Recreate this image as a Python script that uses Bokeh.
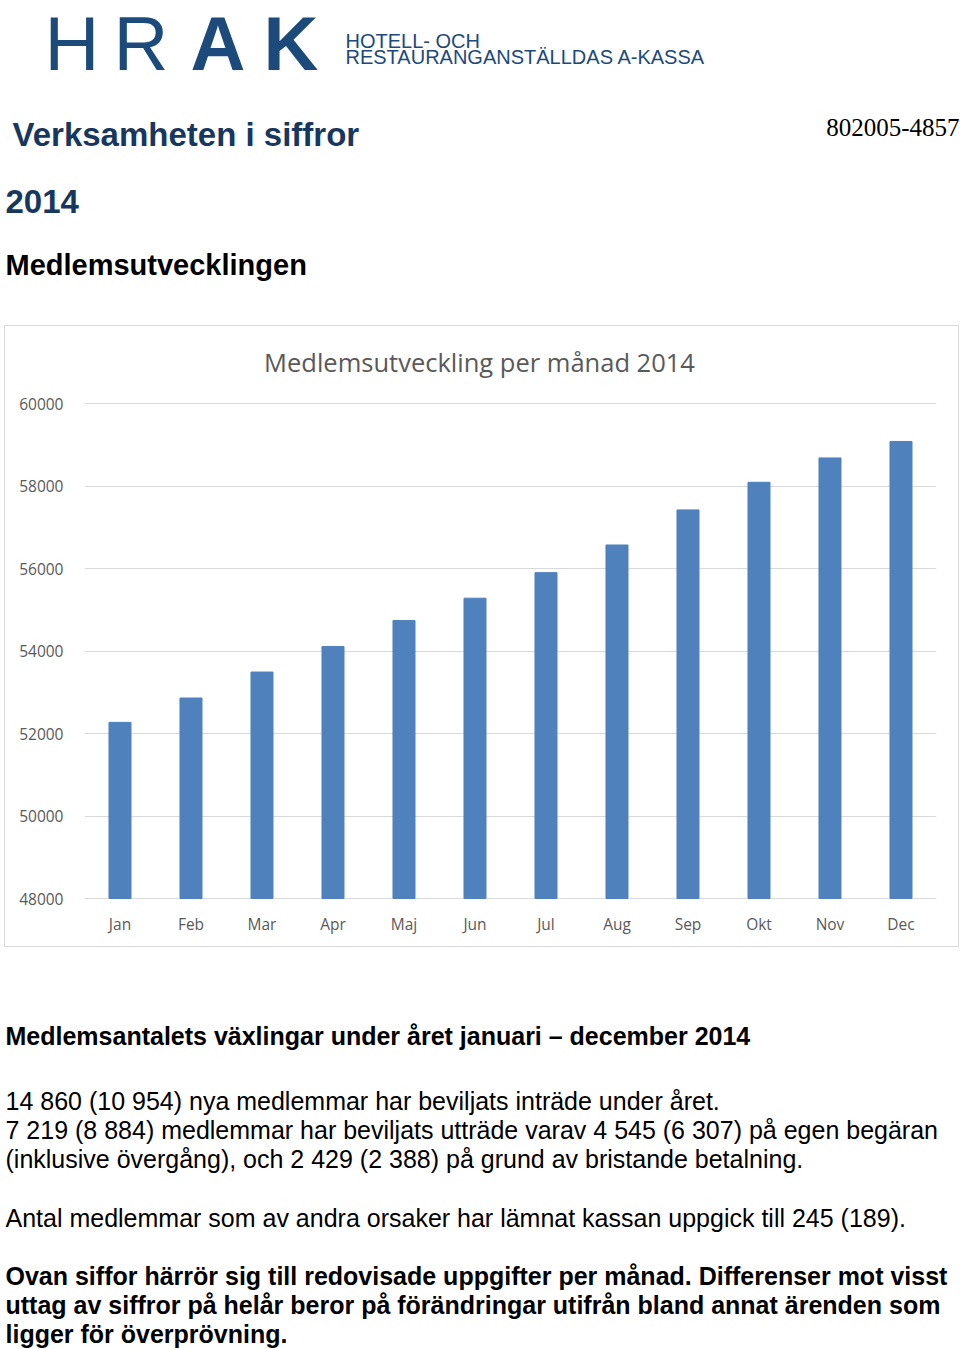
from bokeh.plotting import figure
from bokeh.models import Range1d, SingleIntervalTicker
from bokeh.core.properties import value
from bokeh.embed import file_html
from bokeh.resources import INLINE

# ---------------- data ----------------
months = ["Jan", "Feb", "Mar", "Apr", "Maj", "Jun", "Jul", "Aug", "Sep", "Okt", "Nov", "Dec"]
members = [52270, 52860, 53490, 54110, 54740, 55280, 55900, 56570, 57420, 58090, 58680, 59080]
y_min, y_max, y_step = 48000, 60000, 2000

chart_title = "Medlemsutveckling per månad 2014"
logo_big_light = ["H", "R"]
logo_big_bold = ["A", "K"]
logo_lines = ["HOTELL- OCH", "RESTAURANGANSTÄLLDAS A-KASSA"]
doc_title = "Verksamheten i siffror"
org_no = "802005-4857"
year_label = "2014"
section_title = "Medlemsutvecklingen"
changes_heading = "Medlemsantalets växlingar under året januari – december 2014"
changes_lines = [
    "14 860 (10 954) nya medlemmar har beviljats inträde under året.",
    "7 219 (8 884) medlemmar har beviljats utträde varav 4 545 (6 307) på egen begäran",
    "(inklusive övergång), och 2 429 (2 388) på grund av bristande betalning.",
]
other_line = "Antal medlemmar som av andra orsaker har lämnat kassan uppgick till 245 (189)."
note_lines = [
    "Ovan siffor härrör sig till redovisade uppgifter per månad. Differenser mot visst",
    "uttag av siffror på helår beror på förändringar utifrån bland annat ärenden som",
    "ligger för överprövning.",
]

NAVY = "#17375e"
LOGO = "#1c4a7a"
GRAY = "#595959"
SANS = value("Liberation Sans")


def page_fig(h, top, bottom):
    f = figure(width=960, height=h, x_range=Range1d(0, 960), y_range=Range1d(bottom, top),
               output_backend="svg", toolbar_location=None, min_border=0,
               x_axis_type=None, y_axis_type=None)
    f.outline_line_color = None
    f.grid.visible = False
    return f


def txt(f, x, y, t, size, color="black", style="normal", font=SANS, align="left"):
    f.text(x=x, y=y, text=t, text_font=font, text_font_size=size, text_font_style=style,
           text_color=color, text_baseline="middle", text_align=align)


# ---------------- header (page y 0..325) ----------------
head = page_fig(325, 0, 325)
txt(head, [44, 113], [43, 43], logo_big_light, "76px", LOGO)
txt(head, [190, 263], [43, 43], logo_big_bold, "76px", LOGO, "bold")
txt(head, [345, 345], [40.6, 56.1], logo_lines, "20px", LOGO)
txt(head, [12], [134], [doc_title], "33px", NAVY, "bold")
txt(head, [959], [127], [org_no], "25px", "black", font=value("Liberation Serif"), align="right")
txt(head, [5], [201], [year_label], "33px", NAVY, "bold")
txt(head, [5], [264], [section_title], "29px", "black", "bold")

# ---------------- chart (page y 325..947, x 4..959) ----------------
# plot frame: 852 px wide (71 px per month), 41.25 px per 1000 members;
# the frame reaches up into the title band so the title can sit inside it
px_per_unit = 41.25 / 1000.0
pad_bottom = 3 / px_per_unit          # 3 px below the 48000 line
pad_top = 73 / px_per_unit            # 73 px above the 60000 line (title band)
title_rise = 42 / px_per_unit         # title centre 42 px above the 60000 line
chart = figure(width=955, height=622, x_range=months,
               y_range=Range1d(y_min - pad_bottom, y_max + pad_top),
               output_backend="svg", toolbar_location=None,
               min_border_left=79, min_border_right=24, min_border_top=4, min_border_bottom=47)
chart.margin = (0, 0, 0, 4)
chart.styles = {"border": "1px solid #d9d9d9"}
chart.vbar(x=months, top=members, bottom=y_min, width=0.31, color="#4f81bd")
chart.text(x=[len(months) * (479 - 84) / 852.0], y=[y_max + title_rise], text=[chart_title],
           text_font=value("Open Sans"), text_font_size="25.5px", text_color=GRAY,
           text_align="center", text_baseline="middle")
chart.outline_line_color = None
chart.xgrid.grid_line_color = None
chart.ygrid.grid_line_color = "#d9d9d9"
chart.yaxis.ticker = SingleIntervalTicker(interval=y_step)
for ax in (chart.xaxis, chart.yaxis):
    ax.axis_line_color = None
    ax.major_tick_line_color = None
    ax.minor_tick_line_color = None
    ax.major_tick_out = 0
    ax.major_tick_in = 0
    ax.minor_tick_out = 0
    ax.major_label_text_font = "Open Sans"
    ax.major_label_text_font_size = "15.5px"
    ax.major_label_text_color = GRAY
chart.yaxis.major_label_standoff = 21
chart.xaxis.major_label_standoff = 11

# ---------------- footer (page y 947..1349) ----------------
foot = page_fig(402, 947, 1349)
txt(foot, [5], [1035], [changes_heading], "25px", "black", "bold")
txt(foot, [5, 5, 5], [1100, 1129, 1158], changes_lines, "25px")
txt(foot, [5], [1217], [other_line], "25px")
txt(foot, [5, 5, 5], [1275, 1304, 1333], note_lines, "25px", "black", "bold")

open("out.html", "w").write(file_html([head, chart, foot], INLINE))
